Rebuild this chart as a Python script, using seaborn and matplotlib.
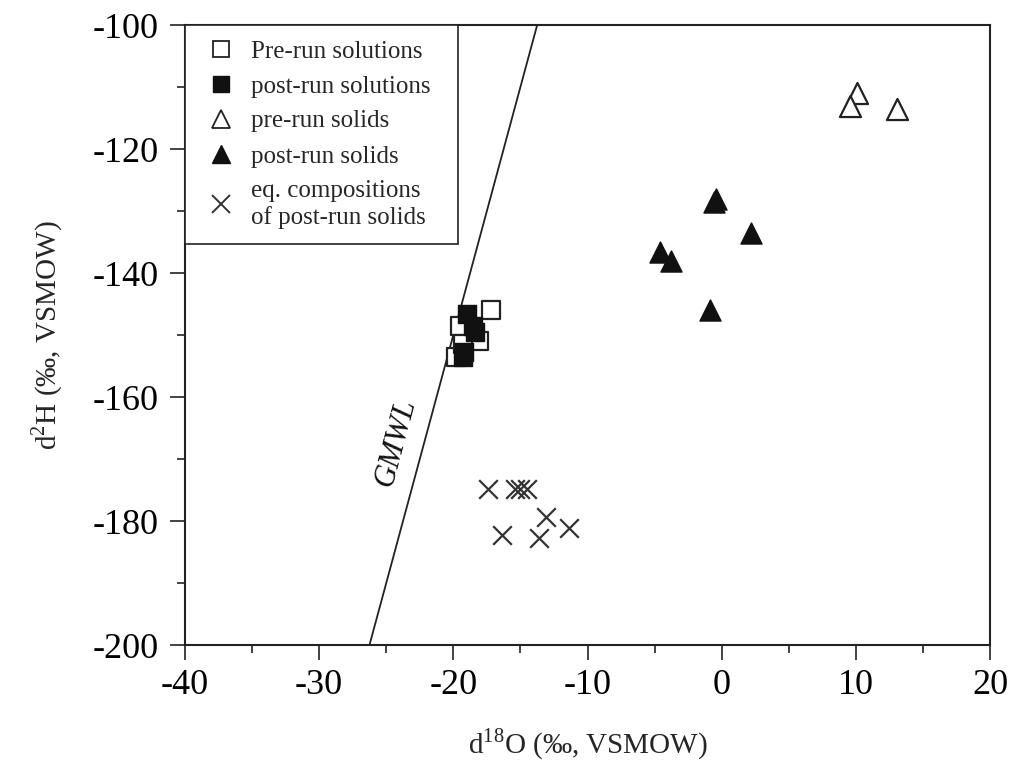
import numpy as np
import pandas as pd
import matplotlib
matplotlib.use("Agg")
import matplotlib.pyplot as plt
from matplotlib.lines import Line2D
from matplotlib.ticker import MultipleLocator
import seaborn as sns

# Oxygen / hydrogen isotope compositions (per mil, VSMOW)
pre_sol_o = [-17.2, -18.1, -19.5, -19.8, -19.3]
pre_sol_h = [-146.0, -151.0, -148.5, -153.5, -151.5]

post_sol_o = [-19.0, -18.5, -18.4, -19.2, -19.3]
post_sol_h = [-146.6, -148.5, -149.5, -152.8, -153.5]

pre_solid_o = [10.1, 9.6, 13.1]
pre_solid_h = [-110.9, -113.0, -113.6]

post_solid_o = [-0.4, -0.6, 2.2, -4.6, -3.8, -0.9]
post_solid_h = [-128.0, -128.6, -133.5, -136.6, -138.0, -146.0]

eq_o = [-17.4, -15.4, -15.0, -14.5, -13.1, -16.4, -13.6, -11.4]
eq_h = [-174.9, -174.9, -174.9, -174.9, -179.4, -182.3, -182.7, -181.2]

# Global meteoric water line: dD = 8 * d18O + 10
gmwl_slope = 8.0
gmwl_intercept = 10.0

sns.set_theme(style="white")
plt.rcParams["font.family"] = ["Liberation Serif", "DejaVu Serif"]
plt.rcParams["mathtext.fontset"] = "custom"
plt.rcParams["mathtext.rm"] = "Liberation Serif"
plt.rcParams["axes.unicode_minus"] = False

fig = plt.figure(figsize=(10.16, 7.72), dpi=100)
ax = fig.add_axes([185 / 1016, 1 - 645 / 772, 805 / 1016, 620 / 772])

edge = "#222222"

# GMWL reference line
gx = np.array([-40.0, 20.0])
sns.lineplot(x=gx, y=gmwl_slope * gx + gmwl_intercept, ax=ax,
             color=edge, linewidth=1.3, zorder=1)

sns.scatterplot(x=pre_sol_o, y=pre_sol_h, ax=ax, marker="s", s=170,
                facecolor="white", edgecolor=edge, linewidth=1.6, zorder=3)
sns.scatterplot(x=post_sol_o, y=post_sol_h, ax=ax, marker="s", s=170,
                color="#111111", edgecolor="#111111", linewidth=1, zorder=4)
sns.scatterplot(x=pre_solid_o, y=pre_solid_h, ax=ax, marker="^", s=230,
                facecolor="white", edgecolor=edge, linewidth=1.6, zorder=3)
sns.scatterplot(x=post_solid_o, y=post_solid_h, ax=ax, marker="^", s=230,
                color="#111111", edgecolor="#111111", linewidth=1, zorder=4)
sns.scatterplot(x=eq_o, y=eq_h, ax=ax, marker="x", s=180,
                color="#333333", linewidth=1.6, zorder=3)

ax.text(-24.3, -167.4, "GMWL", rotation=75, fontsize=22, style="italic",
        ha="center", va="center", color="#111111")

ax.set_xlim(-40, 20)
ax.set_ylim(-200, -100)
ax.xaxis.set_major_locator(MultipleLocator(10))
ax.xaxis.set_minor_locator(MultipleLocator(5))
ax.yaxis.set_major_locator(MultipleLocator(20))
ax.yaxis.set_minor_locator(MultipleLocator(10))
ax.tick_params(which="both", direction="out", bottom=True, left=True,
               top=False, right=False, colors="#222222", width=1.2)
ax.tick_params(which="major", length=11, labelsize=26)
ax.tick_params(which="minor", length=6)
ax.tick_params(axis="x", which="major", pad=6)
ax.tick_params(axis="y", which="major", pad=8)
for lbl in ax.get_xticklabels() + ax.get_yticklabels():
    lbl.set_color("black")
for sp in ax.spines.values():
    sp.set_color("#222222")
    sp.set_linewidth(1.5)

ax.set_xlabel(r"d$^{\mathregular{18}}$O (‰, VSMOW)", fontsize=21, labelpad=18)
ax.set_ylabel(r"d$^{\mathregular{2}}$H (‰, VSMOW)", fontsize=21, labelpad=20)

handles = [
    Line2D([], [], linestyle="none", marker="s", markersize=11,
           markerfacecolor="white", markeredgecolor=edge, markeredgewidth=1.3),
    Line2D([], [], linestyle="none", marker="s", markersize=11,
           markerfacecolor="#111111", markeredgecolor="#111111"),
    Line2D([], [], linestyle="none", marker="^", markersize=13,
           markerfacecolor="white", markeredgecolor=edge, markeredgewidth=1.3),
    Line2D([], [], linestyle="none", marker="^", markersize=13,
           markerfacecolor="#111111", markeredgecolor="#111111"),
    Line2D([], [], linestyle="none", marker="x", markersize=13,
           color="#333333", markeredgewidth=1.4),
]
labels = ["Pre-run solutions", "post-run solutions", "pre-run solids",
          "post-run solids", "eq. compositions\nof post-run solids"]
leg = ax.legend(handles, labels, loc="upper left",
                bbox_to_anchor=(0, 0, 0.339, 1), mode="expand",
                borderaxespad=0, frameon=True, fancybox=False, fontsize=18,
                handletextpad=0.34, labelspacing=0.5, borderpad=0.6,
                handlelength=1.7)
leg.get_frame().set_edgecolor("#222222")
leg.get_frame().set_linewidth(1.2)
leg.get_frame().set_alpha(1)

fig.savefig("out.png", dpi=100)
